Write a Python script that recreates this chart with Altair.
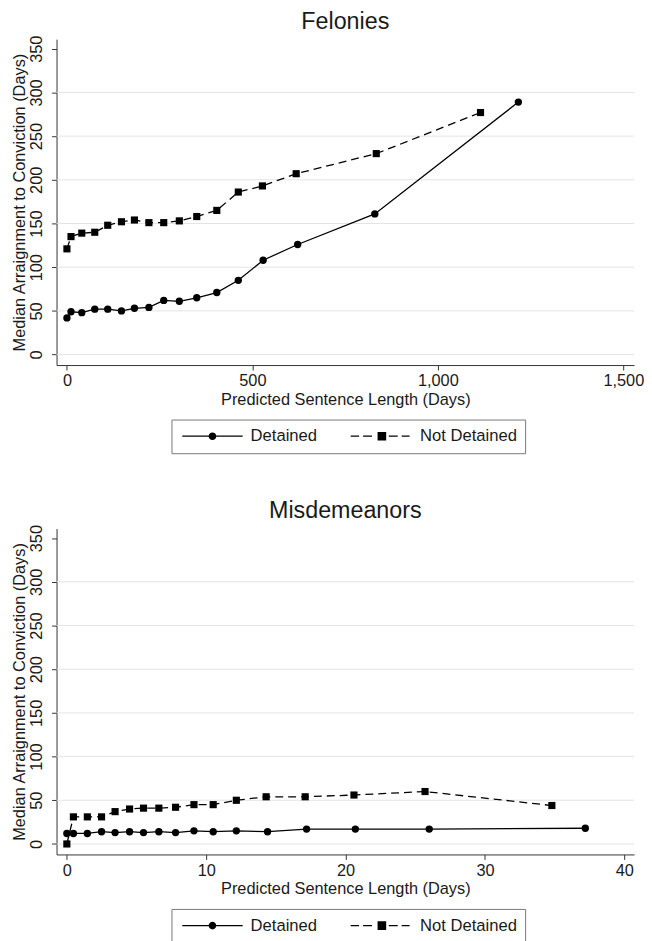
import altair as alt
import pandas as pd

# ---- data ----
status_names = ["Detained", "Not Detained"]

fel_det_x = [0, 11, 40, 75, 110, 147, 182, 221, 261, 303, 350, 404, 462, 529, 622, 830, 1217]
fel_det_y = [42, 49, 48, 52, 52, 50, 53, 54, 62, 61, 65, 71, 85, 108, 126, 161, 289]
fel_nd_x = [0, 11, 40, 75, 110, 147, 182, 221, 261, 303, 350, 404, 462, 527, 618, 834, 1115]
fel_nd_y = [121, 135, 139, 140, 148, 152, 154, 151, 151, 153, 158, 165, 186, 193, 207, 230, 277]

mis_det_x = [0, 0.47, 1.47, 2.49, 3.46, 4.5, 5.5, 6.6, 7.8, 9.12, 10.5, 12.16, 14.4, 17.2, 20.7, 26.0, 37.2]
mis_det_y = [12, 12, 12, 14, 13, 14, 13, 14, 13, 15, 14, 15, 14, 17, 17, 17, 18]
mis_nd_x = [0, 0.47, 1.47, 2.49, 3.46, 4.5, 5.5, 6.6, 7.8, 9.12, 10.5, 12.16, 14.3, 17.1, 20.6, 25.7, 34.8]
mis_nd_y = [0, 31, 31, 31, 37, 40, 41, 41, 42, 45, 45, 50, 54, 54, 56, 60, 44]

y_ticks = [0, 50, 100, 150, 200, 250, 300, 350]
grid_vals = [0, 50, 100, 150, 200, 250, 300]
fel_x_ticks = [0, 500, 1000, 1500]
mis_x_ticks = [0, 10, 20, 30, 40]

FONT = "Liberation Sans"
TXT = "#1a1a1a"
Y_TITLE = "Median Arraignment to Conviction (Days)"
X_TITLE = "Predicted Sentence Length (Days)"


def circ(r):
    return f"M{r},0A{r},{r} 0 1,1 -{r},0A{r},{r} 0 1,1 {r},0Z"


def sq(h):
    return f"M-{h},-{h}H{h}V{h}H-{h}Z"


# legend symbols: line + marker (marker filled by concentric strokes)
sym_det = "M-6.1,0H6.1" + "".join(circ(r) for r in [0.65, 0.5, 0.35, 0.2, 0.06])
sym_nd = ("M-6.3,0H-4.6M-3.8,0H-2.0M1.4,0H3.2M4.0,0H5.6"
          + "".join(sq(h) for h in [0.75, 0.6, 0.45, 0.3, 0.15]))


def panel(title, dx, dy, nx, ny, xdom, xticks):
    df = pd.DataFrame({
        "x": dx + nx,
        "y": dy + ny,
        "Status": [status_names[0]] * len(dx) + [status_names[1]] * len(nx),
    })
    gdf = pd.DataFrame({"g": grid_vals})

    xaxis = alt.Axis(values=xticks, labelExpr="format(datum.value, ',')", title=X_TITLE)
    yaxis = alt.Axis(values=y_ticks, labelAngle=270, title=Y_TITLE)
    yscale = alt.Scale(domain=[-12, 361], nice=False, zero=False)
    xenc = alt.X("x:Q", scale=alt.Scale(domain=xdom, nice=False, zero=False), axis=xaxis)
    yenc = alt.Y("y:Q", scale=yscale, axis=yaxis)

    base = alt.Chart(df)
    grid = alt.Chart(gdf).mark_rule(color="#e4e4e4", strokeWidth=1).encode(
        y=alt.Y("g:Q", scale=yscale, axis=yaxis))
    det = base.transform_filter(alt.datum.Status == status_names[0])
    nd = base.transform_filter(alt.datum.Status == status_names[1])

    det_line = det.mark_line(color="black", strokeWidth=1.3).encode(x=xenc, y=yenc)
    nd_line = nd.mark_line(color="black", strokeWidth=1.3, strokeDash=[8, 5]).encode(x=xenc, y=yenc)
    det_pts = det.mark_point(shape="circle", filled=True, size=55, color="black",
                             opacity=1).encode(x=xenc, y=yenc)
    nd_pts = nd.mark_point(shape="square", filled=True, size=52, color="black",
                           opacity=1).encode(x=xenc, y=yenc)
    leg = base.mark_point(filled=False, color="black", strokeWidth=1.2,
                          opacity=0).encode(
        x=xenc, y=yenc,
        shape=alt.Shape("Status:N",
                        scale=alt.Scale(domain=status_names, range=[sym_det, sym_nd]),
                        legend=alt.Legend(
                            title=None, orient="none", legendX=116, legendY=384,
                            direction="horizontal",
                            symbolSize=100, symbolStrokeWidth=1.2, symbolOpacity=1,
                            symbolFillColor="black", symbolStrokeColor="black",
                            symbolOffset=25, labelOffset=30,
                            labelFont=FONT, labelFontSize=16.8, labelColor=TXT,
                            columnPadding=31,
                            strokeColor="#777777", padding=8)))

    return alt.layer(grid, det_line, nd_line, det_pts, nd_pts, leg).properties(
        width=583, height=329,
        title=alt.TitleParams(title, fontSize=23.5, font=FONT, fontWeight="normal",
                              color=TXT, anchor="middle", offset=2))


top = panel("Felonies", fel_det_x, fel_det_y, fel_nd_x, fel_nd_y, [-28, 1529],
            fel_x_ticks)
bottom = panel("Misdemeanors", mis_det_x, mis_det_y, mis_nd_x, mis_nd_y, [-0.74, 40.7],
               mis_x_ticks)

chart = alt.vconcat(top, bottom, spacing=45).resolve_scale(
    shape="independent"
).resolve_legend(shape="independent").properties(
    padding={"left": 3, "top": -3, "right": 0, "bottom": 0}
).configure_view(stroke=None).configure_axis(
    grid=False, domainColor="#333333", tickColor="#333333", tickSize=5,
    labelFont=FONT, labelFontSize=16.5, labelColor=TXT,
    titleFont=FONT, titleFontSize=16.5, titleColor=TXT, titleFontWeight="normal",
    labelPadding=3, titlePadding=2
).configure_axisY(labelPadding=7, titlePadding=1)

chart.save("out.html", embed_options={"renderer": "svg", "actions": False})
